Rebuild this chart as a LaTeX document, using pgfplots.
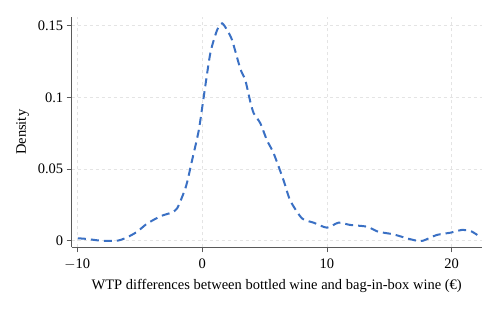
\documentclass[border=0pt]{standalone}
\usepackage{fontspec}
\setmainfont{Liberation Serif}
\usepackage{pgfplots}
\pgfplotsset{compat=1.18}
\definecolor{curveblue}{RGB}{58,112,196}
\definecolor{gridgray}{RGB}{228,228,228}
\definecolor{axisgray}{RGB}{90,90,90}
\begin{document}
\begin{tikzpicture}
\path[use as bounding box] (-71.7pt,-62.7pt) rectangle (428.3pt,247.3pt);
\begin{axis}[
  scale only axis,
  width=410pt, height=230pt,
  xmin=-10.45, xmax=22.4,
  ymin=-0.0046, ymax=0.1559,
  axis lines=left,
  axis line style={axisgray, line width=0.9pt, -},
  xtick={-10,0,10,20},
  ytick={0,0.05,0.1,0.15},
  yticklabels={0,0.05,0.1,0.15},
  xticklabels={$-$10,0,10,20},
  tick style={axisgray, line width=0.8pt},
  tick align=outside,
  major tick length=5pt,
  grid=major,
  major grid style={gridgray, dashed, line width=0.7pt},
  ticklabel style={font=\fontsize{14.5}{16}\selectfont, text=black},
  xticklabel style={yshift=-3pt},
  /pgf/number format/assume math mode=true,
  xlabel={WTP differences between bottled wine and bag-in-box wine (€)},
  ylabel={Density},
  label style={font=\fontsize{14.5}{16}\selectfont},
  xlabel style={yshift=-3pt},
  ylabel style={yshift=2pt},
  clip=false,
]
\addplot[curveblue, line width=2pt, dash pattern=on 8pt off 5pt, smooth, tension=0.4] coordinates {
(-9.95,0.0017) (-9.2,0.0012) (-8.1,0.0) (-6.8,0.0) (-6.0,0.0024) (-5.2,0.0063)
(-4.4,0.012) (-3.3,0.0172) (-2.5,0.0195) (-2.0,0.0226) (-1.3,0.0377) (-0.8,0.0563)
(-0.27,0.077) (0.13,0.1005) (0.66,0.131) (1.2,0.147) (1.6,0.1517) (2.0,0.147)
(2.4,0.140) (3.06,0.120) (3.46,0.112) (3.86,0.097) (4.13,0.089) (4.66,0.082)
(5.2,0.070) (5.73,0.061) (6.53,0.042) (7.06,0.028) (8.0,0.0156) (8.93,0.0126)
(10.0,0.0091) (10.93,0.0126) (11.86,0.011) (13.2,0.0098) (14.1,0.0063) (15.3,0.0045)
(16.4,0.0017) (17.2,0.0) (17.7,0.0) (18.8,0.004) (19.9,0.0056) (20.8,0.0075)
(21.5,0.0068) (22.05,0.004)
};
\end{axis}
\end{tikzpicture}
\end{document}
